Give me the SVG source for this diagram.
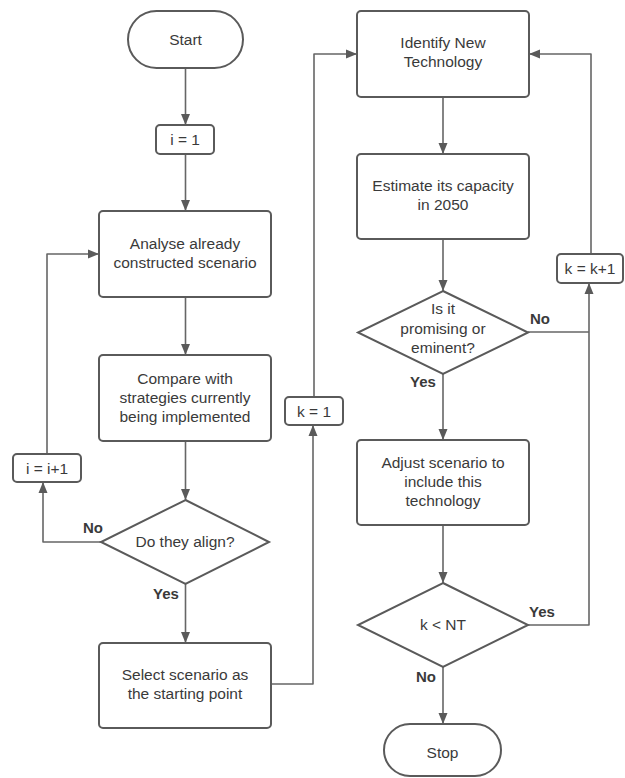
<svg xmlns="http://www.w3.org/2000/svg" width="625" height="778" viewBox="0 0 625 778">
<style>
.box{fill:#fff;stroke:#5a5a5a;stroke-width:2}
.t{font-family:"Liberation Sans",Arial,sans-serif;font-size:15.5px;fill:#3a3a3a;text-anchor:middle;dominant-baseline:central}
.lbl{font-family:"Liberation Sans",Arial,sans-serif;font-size:15px;font-weight:bold;fill:#3a3a3a;text-anchor:middle;dominant-baseline:central}
.c{fill:none;stroke:#666;stroke-width:1.6;stroke-linejoin:round;marker-end:url(#ah)}
.cn{fill:none;stroke:#666;stroke-width:1.6;stroke-linejoin:round}
</style>
<defs>
<marker id="ah" markerUnits="userSpaceOnUse" markerWidth="12" markerHeight="12" viewBox="0 0 12 12" refX="11" refY="6" orient="auto">
<path d="M0,1.5 L11,6 L0,10.5 Z" fill="#5a5a5a"/>
</marker>
</defs>
<rect width="625" height="778" fill="#fff"/>
<g id="connectors">
<path class="c" d="M185.5 68 V125"/>
<path class="c" d="M185.5 154 V211"/>
<path class="c" d="M185.5 297 V355"/>
<path class="c" d="M185.5 441 V500"/>
<path class="c" d="M101 542 H43 V482"/>
<path class="c" d="M47 454 V254 H99"/>
<path class="c" d="M185.5 584 V643"/>
<path class="c" d="M271 684 H313 V425"/>
<path class="c" d="M314 397 V54 H357"/>
<path class="c" d="M443 97 V154"/>
<path class="c" d="M443 239 V291"/>
<path class="cn" d="M528 332 H589"/>
<path class="c" d="M528 625 H589 V283"/>
<path class="c" d="M591 254 V54 H529"/>
<path class="c" d="M443 374 V440"/>
<path class="c" d="M443 525 V583"/>
<path class="c" d="M443 667 V724"/>
</g>
<g id="start"><rect class="box" x="128" y="11" width="115" height="57" rx="28.5"/><text class="t" x="185.5" y="39">Start</text></g>
<g id="i1"><rect class="box" x="156" y="125" width="58" height="29" rx="4"/><text class="t" x="185" y="139.5">i = 1</text></g>
<g id="analyse"><rect class="box" x="99" y="211" width="172" height="86" rx="4"/><text class="t" x="185" y="243">Analyse already</text><text class="t" x="185" y="262">constructed scenario</text></g>
<g id="compare"><rect class="box" x="99" y="355" width="172" height="86" rx="4"/><text class="t" x="185" y="378">Compare with</text><text class="t" x="185" y="397">strategies currently</text><text class="t" x="185" y="416">being implemented</text></g>
<g id="align"><polygon class="box" points="185.5,500 269,542 185.5,584 101,542"/><text class="t" x="185" y="541">Do they align?</text></g>
<g id="iinc"><rect class="box" x="13" y="454" width="68" height="28" rx="4"/><text class="t" x="47" y="468">i = i+1</text></g>
<g id="select"><rect class="box" x="99" y="643" width="172" height="85" rx="4"/><text class="t" x="185" y="674">Select scenario as</text><text class="t" x="185" y="693">the starting point</text></g>
<g id="k1"><rect class="box" x="285" y="397" width="58" height="28" rx="4"/><text class="t" x="314" y="411">k = 1</text></g>
<g id="identify"><rect class="box" x="357" y="11" width="172" height="86" rx="4"/><text class="t" x="443" y="42">Identify New</text><text class="t" x="443" y="61">Technology</text></g>
<g id="estimate"><rect class="box" x="357" y="154" width="172" height="85" rx="4"/><text class="t" x="443" y="185">Estimate its capacity</text><text class="t" x="443" y="204">in 2050</text></g>
<g id="promising"><polygon class="box" points="443,291 528,332.5 443,374 358,332.5"/><text class="t" x="443" y="308">Is it</text><text class="t" x="443" y="328">promising or</text><text class="t" x="443" y="347">eminent?</text></g>
<g id="kinc"><rect class="box" x="557" y="254" width="66" height="29" rx="4"/><text class="t" x="590" y="268.5">k = k+1</text></g>
<g id="adjust"><rect class="box" x="357" y="440" width="172" height="85" rx="4"/><text class="t" x="443" y="462">Adjust scenario to</text><text class="t" x="443" y="481">include this</text><text class="t" x="443" y="500">technology</text></g>
<g id="knt"><polygon class="box" points="443,583 528,625 443,667 358,625"/><text class="t" x="443" y="624">k &lt; NT</text></g>
<g id="stop"><rect class="box" x="384" y="724" width="117" height="52" rx="26"/><text class="t" x="442.5" y="752">Stop</text></g>
<g id="labels">
<text class="lbl" x="93" y="527">No</text>
<text class="lbl" x="166" y="593">Yes</text>
<text class="lbl" x="540" y="318">No</text>
<text class="lbl" x="423" y="381">Yes</text>
<text class="lbl" x="542" y="611">Yes</text>
<text class="lbl" x="426" y="676">No</text>
</g>
</svg>
